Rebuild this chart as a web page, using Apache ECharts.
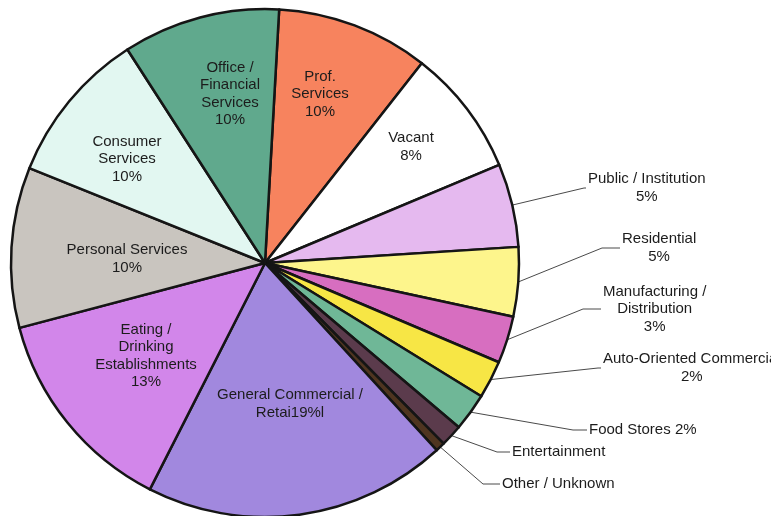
<!DOCTYPE html>
<html>
<head>
<meta charset="utf-8">
<script src="https://cdn.jsdelivr.net/npm/echarts@6/dist/echarts.min.js"></script>
<style>
html, body { margin: 0; padding: 0; background: #ffffff; }
#chart { width: 771px; height: 516px; }
</style>
</head>
<body>
<div id="chart"></div>
<script>
// ---- data (clockwise from just right of 12 o'clock) ----
const categories = [
  'Prof. Services', 'Vacant', 'Public / Institution', 'Residential',
  'Manufacturing / Distribution', 'Auto-Oriented Commercial', 'Food Stores',
  'Entertainment', 'Other / Unknown', 'General Commercial / Retail',
  'Eating / Drinking Establishments', 'Personal Services', 'Consumer Services',
  'Office / Financial Services'
];
const values = [9.7, 8.1, 5.3, 4.4, 3.0, 2.4, 2.4, 1.4, 0.6, 19.3, 13.4, 10.2, 9.8, 10.0];
const labelTexts = [
  'Prof.\nServices\n10%', 'Vacant\n8%', 'Public / Institution\n5%', 'Residential\n5%',
  'Manufacturing /\nDistribution\n3%', 'Auto-Oriented Commercial\n2%', 'Food Stores 2%',
  'Entertainment', 'Other / Unknown', 'General Commercial /\nRetai19%l',
  'Eating /\nDrinking\nEstablishments\n13%', 'Personal Services\n10%',
  'Consumer\nServices\n10%', 'Office /\nFinancial\nServices\n10%'
];
const insideLabel = [true, true, false, false, false, false, false, false, false, true, true, true, true, true];

// ---- styles / layout ----
const colors = [
  '#f7835e', '#ffffff', '#e5b9ef', '#fdf58c', '#d76ec0', '#f7e645', '#6fb797',
  '#5b3b4c', '#4f3520', '#a188de', '#d286ea', '#c9c5bf', '#e2f7f1', '#60a98d'
];
const pieCenter = [265, 263];
const pieRadius = 254;
const startAngle = 86.8;
// label anchors: inside -> block centre; outside -> block left / middle
const labelAnchor = [
  [320, 94], [411, 147], [588, 188], [622, 248], [603, 309], [603, 368], [589, 430],
  [512, 452], [502, 484], [290, 404], [146, 356], [127, 259], [127, 159], [230, 94]
];
const lineTurnX = [null, null, 584, 602, 583, 598, 573, 497, 483, null, null, null, null, null];

function edgePoint(i) {
  const total = values.reduce((a, b) => a + b, 0);
  let acc = 0;
  for (let k = 0; k < i; k++) acc += values[k];
  const midDeg = (90 - startAngle) + (acc + values[i] / 2) / total * 360;
  const t = midDeg * Math.PI / 180;
  return [pieCenter[0] + pieRadius * Math.sin(t), pieCenter[1] - pieRadius * Math.cos(t)];
}

const fontFamily = '"Liberation Sans", Arial, sans-serif';

const data = categories.map((name, i) => ({
  name: name,
  value: values[i],
  itemStyle: { color: colors[i] },
  label: {
    position: insideLabel[i] ? 'inside' : 'outside',
    formatter: insideLabel[i]
      ? labelTexts[i]
      : labelTexts[i].split('\n').map(s => '{c|' + s + '}').join('\n')
  },
  labelLine: { show: !insideLabel[i] }
}));

const chart = echarts.init(document.getElementById('chart'), null, { renderer: 'canvas' });
chart.setOption({
  backgroundColor: '#ffffff',
  animation: false,
  series: [{
    type: 'pie',
    center: pieCenter,
    radius: pieRadius,
    startAngle: startAngle,
    clockwise: true,
    avoidLabelOverlap: false,
    silent: true,
    itemStyle: { borderColor: '#151515', borderWidth: 2.5 },
    label: {
      color: '#1c1c1c',
      fontFamily: fontFamily,
      fontSize: 15,
      lineHeight: 17.5,
      textBorderWidth: 0,
      rich: {
        c: { align: 'center', color: '#1c1c1c', fontFamily: fontFamily, fontSize: 15, lineHeight: 17.5 }
      }
    },
    labelLine: {
      length: 20, length2: 10, smooth: false,
      lineStyle: { color: '#4a4a4a', width: 1 }
    },
    labelLayout: function (p) {
      const i = p.dataIndex;
      const a = labelAnchor[i];
      if (insideLabel[i]) {
        return { x: a[0], y: a[1], align: 'center', verticalAlign: 'middle' };
      }
      const start = (p.labelLinePoints && p.labelLinePoints[0]) ? p.labelLinePoints[0] : edgePoint(i);
      return {
        x: a[0], y: a[1], align: 'left', verticalAlign: 'middle',
        labelLinePoints: [start, [lineTurnX[i], a[1]], [a[0] - 2, a[1]]]
      };
    },
    data: data
  }]
});
</script>
</body>
</html>
